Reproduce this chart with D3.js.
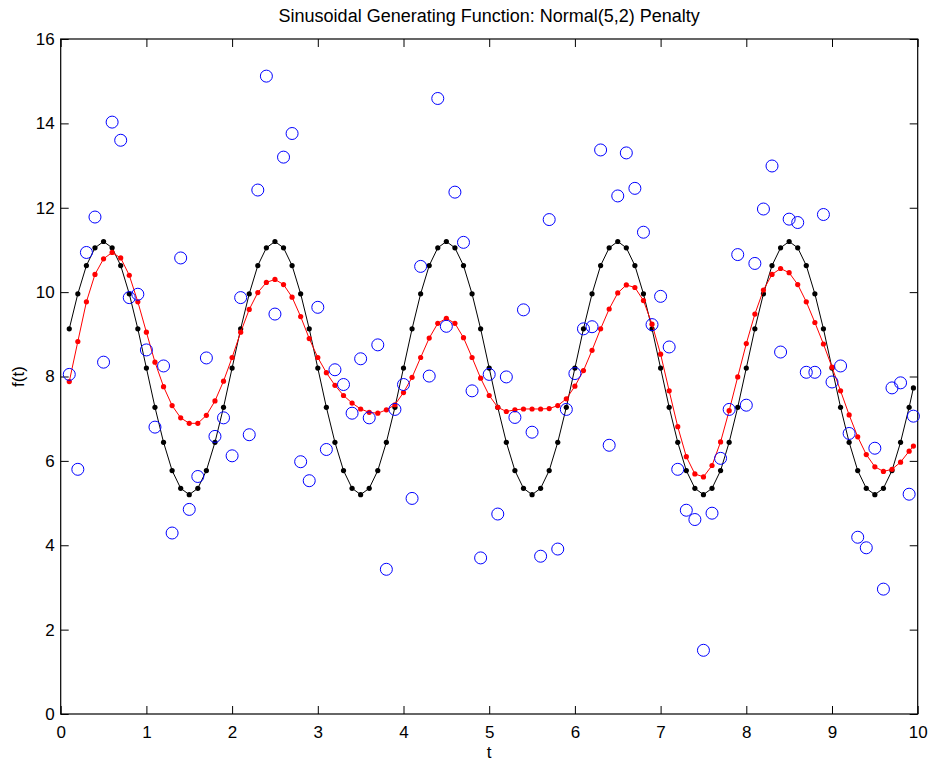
<!DOCTYPE html>
<html>
<head>
<meta charset="utf-8">
<script src="https://cdnjs.cloudflare.com/ajax/libs/d3/7.8.5/d3.min.js"></script>
<style>
  html, body { margin: 0; padding: 0; background: white; overflow: hidden; }
  svg { display: block; }
  text { font-family: "Liberation Sans", Arial, sans-serif; }
</style>
</head>
<body>
<script>
// sample times
const tVals = [0.1,0.2,0.3,0.4,0.5,0.6,0.7,0.8,0.9,1.0,
  1.1,1.2,1.3,1.4,1.5,1.6,1.7,1.8,1.9,2.0,
  2.1,2.2,2.3,2.4,2.5,2.6,2.7,2.8,2.9,3.0,
  3.1,3.2,3.3,3.4,3.5,3.6,3.7,3.8,3.9,4.0,
  4.1,4.2,4.3,4.4,4.5,4.6,4.7,4.8,4.9,5.0,
  5.1,5.2,5.3,5.4,5.5,5.6,5.7,5.8,5.9,6.0,
  6.1,6.2,6.3,6.4,6.5,6.6,6.7,6.8,6.9,7.0,
  7.1,7.2,7.3,7.4,7.5,7.6,7.7,7.8,7.9,8.0,
  8.1,8.2,8.3,8.4,8.5,8.6,8.7,8.8,8.9,9.0,
  9.1,9.2,9.3,9.4,9.5,9.6,9.7,9.8,9.9,9.95];

// generating function (black)
const trueVals = [9.13,9.96,10.63,11.05,11.20,11.05,10.63,9.96,9.13,8.20,
  7.27,6.44,5.77,5.35,5.20,5.35,5.77,6.44,7.27,8.20,
  9.13,9.96,10.63,11.05,11.20,11.05,10.63,9.96,9.13,8.20,
  7.27,6.44,5.77,5.35,5.20,5.35,5.77,6.44,7.27,8.20,
  9.13,9.96,10.63,11.05,11.20,11.05,10.63,9.96,9.13,8.20,
  7.27,6.44,5.77,5.35,5.20,5.35,5.77,6.44,7.27,8.20,
  9.13,9.96,10.63,11.05,11.20,11.05,10.63,9.96,9.13,8.20,
  7.27,6.44,5.77,5.35,5.20,5.35,5.77,6.44,7.27,8.20,
  9.13,9.96,10.63,11.05,11.20,11.05,10.63,9.96,9.13,8.20,
  7.27,6.44,5.77,5.35,5.20,5.35,5.77,6.44,7.27,7.73];

// penalised fit (red)
const fitVals = [7.88,8.83,9.77,10.42,10.79,10.94,10.81,10.40,9.77,9.05,
  8.34,7.76,7.31,7.02,6.89,6.89,7.08,7.42,7.89,8.45,
  9.05,9.59,9.99,10.23,10.30,10.18,9.88,9.42,8.90,8.45,
  8.09,7.79,7.55,7.37,7.23,7.15,7.13,7.21,7.33,7.62,
  7.98,8.45,8.91,9.26,9.38,9.26,8.92,8.45,7.96,7.55,
  7.27,7.17,7.21,7.23,7.23,7.23,7.24,7.31,7.47,7.77,
  8.14,8.62,9.13,9.60,9.98,10.17,10.11,9.80,9.24,8.53,
  7.66,6.81,6.10,5.69,5.62,5.89,6.45,7.19,7.99,8.78,
  9.48,10.05,10.42,10.56,10.46,10.18,9.77,9.28,8.77,8.22,
  7.66,7.09,6.57,6.15,5.86,5.75,5.80,5.97,6.23,6.35];

// observations (blue circles)
const obsVals = [8.05,5.80,10.94,11.78,8.34,14.03,13.60,9.87,9.95,8.63,
  6.80,8.25,4.29,10.81,4.85,5.63,8.44,6.58,7.02,6.12,
  9.87,6.62,12.42,15.12,9.48,13.20,13.76,5.98,5.53,9.64,
  6.27,8.16,7.81,7.13,8.42,7.02,8.75,3.43,7.22,7.81,
  5.11,10.61,8.01,14.59,9.19,12.37,11.18,7.66,3.70,8.05,
  4.74,7.99,7.03,9.58,6.68,3.74,11.72,3.91,7.22,8.07,
  9.13,9.18,13.37,6.37,12.28,13.30,12.46,11.42,9.23,9.90,
  8.70,5.80,4.83,4.61,1.51,4.76,6.06,7.22,10.89,7.32,
  10.68,11.97,12.99,8.58,11.73,11.65,8.10,8.10,11.84,7.87,
  8.25,6.65,4.19,3.94,6.30,2.96,7.73,7.85,5.21,7.06];

const xTicks = [0,1,2,3,4,5,6,7,8,9,10];
const yTicks = [0,2,4,6,8,10,12,14,16];

const width = 931, height = 765;
const margin = {top: 39, right: 13.3, bottom: 51, left: 60.7};
const innerWidth = width - margin.left - margin.right;
const innerHeight = height - margin.top - margin.bottom;

const svg = d3.select("body").append("svg")
  .attr("width", width).attr("height", height)
  .style("background", "white");
const g = svg.append("g").attr("transform", `translate(${margin.left},${margin.top})`);

const xScale = d3.scaleLinear().domain([0, 10]).range([0, innerWidth]);
const yScale = d3.scaleLinear().domain([0, 16]).range([innerHeight, 0]);

// axes with inward ticks on all four sides
const tickLen = 8;
const fs = "17px";
const xAxisB = g.append("g").attr("transform", `translate(0,${innerHeight})`)
  .call(d3.axisBottom(xScale).tickValues(xTicks).tickSizeInner(-tickLen).tickSizeOuter(0).tickPadding(12));
const xAxisT = g.append("g")
  .call(d3.axisTop(xScale).tickValues(xTicks).tickSizeInner(-tickLen).tickSizeOuter(0));
const yAxisL = g.append("g")
  .call(d3.axisLeft(yScale).tickValues(yTicks).tickSizeInner(-tickLen).tickSizeOuter(0).tickPadding(6));
const yAxisR = g.append("g").attr("transform", `translate(${innerWidth},0)`)
  .call(d3.axisRight(yScale).tickValues(yTicks).tickSizeInner(-tickLen).tickSizeOuter(0));

// top and right axes carry ticks only
xAxisT.selectAll(".tick text").remove();
yAxisR.selectAll(".tick text").remove();

[xAxisB, xAxisT, yAxisL, yAxisR].forEach(a => {
  a.select(".domain").remove();
  a.selectAll(".tick line").attr("stroke", "#000").attr("stroke-width", 1);
  a.selectAll(".tick text").attr("fill", "#000").style("font-size", fs)
    .style("font-family", "'Liberation Sans', Arial, sans-serif");
});
xAxisB.selectAll(".tick text").attr("dy", "0.71em");

g.append("rect")
  .attr("x", 0).attr("y", 0)
  .attr("width", innerWidth).attr("height", innerHeight)
  .attr("fill", "none").attr("stroke", "#000").attr("stroke-width", 1.2);

const line = d3.line().x((d, i) => xScale(tVals[i])).y(d => yScale(d));

// black generating function
g.append("path").datum(trueVals)
  .attr("d", line).attr("fill", "none").attr("stroke", "#000").attr("stroke-width", 1);
g.selectAll("circle.trueDot").data(trueVals).join("circle")
  .attr("class", "trueDot")
  .attr("cx", (d, i) => xScale(tVals[i])).attr("cy", d => yScale(d))
  .attr("r", 2.6).attr("fill", "#000");

// red fit
g.append("path").datum(fitVals)
  .attr("d", line).attr("fill", "none").attr("stroke", "#ff0000").attr("stroke-width", 1);
g.selectAll("circle.fitDot").data(fitVals).join("circle")
  .attr("class", "fitDot")
  .attr("cx", (d, i) => xScale(tVals[i])).attr("cy", d => yScale(d))
  .attr("r", 2.6).attr("fill", "#ff0000");

// blue observations
g.selectAll("circle.obs").data(obsVals).join("circle")
  .attr("class", "obs")
  .attr("cx", (d, i) => xScale(tVals[i])).attr("cy", d => yScale(d))
  .attr("r", 6).attr("fill", "none").attr("stroke", "#0000ff").attr("stroke-width", 1);

// title and labels
svg.append("text")
  .attr("x", margin.left + innerWidth / 2).attr("y", 22)
  .attr("text-anchor", "middle").style("font-size", "18px")
  .text("Sinusoidal Generating Function: Normal(5,2) Penalty");
svg.append("text")
  .attr("x", margin.left + innerWidth / 2).attr("y", 758)
  .attr("text-anchor", "middle").style("font-size", fs)
  .text("t");
svg.append("text")
  .attr("transform", `translate(24,${margin.top + innerHeight / 2}) rotate(-90)`)
  .attr("text-anchor", "middle").style("font-size", fs)
  .text("f(t)");
</script>
</body>
</html>
